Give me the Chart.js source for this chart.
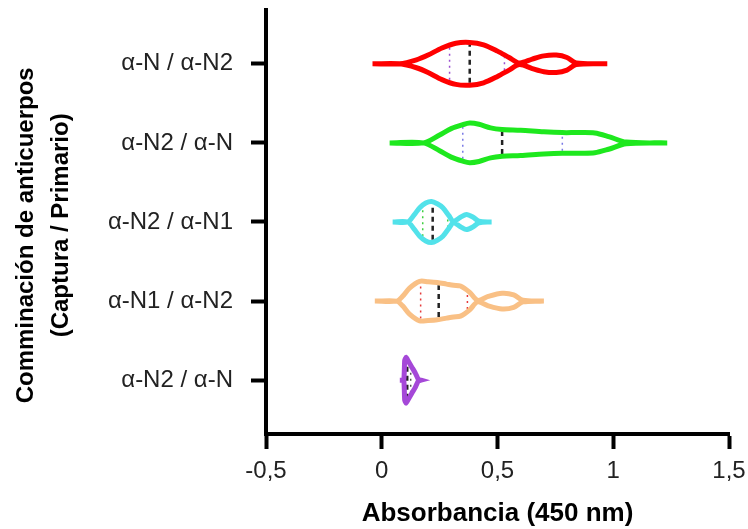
<!DOCTYPE html>
<html>
<head>
<meta charset="utf-8">
<script src="https://cdn.jsdelivr.net/npm/chart.js@4"></script>
<style>
  body { margin: 0; background: #fff; }
  canvas { display: block; }
</style>
</head>
<body>
<canvas id="violinChart" width="748" height="529"></canvas>
<script>
// categories, top to bottom
const categories = ['α-N / α-N2', 'α-N2 / α-N', 'α-N2 / α-N1', 'α-N1 / α-N2', 'α-N2 / α-N'];
const xTicks = [-0.5, 0, 0.5, 1, 1.5];

// violin profiles: absorbance values and density half-widths (in category units)
const redAbs = [-0.04, 0.078, 0.15, 0.20, 0.26, 0.32, 0.38, 0.44, 0.50, 0.55, 0.595, 0.65, 0.70, 0.754, 0.80, 0.84, 0.974];
const redWidth = [0, 0, 0.05, 0.11, 0.20, 0.26, 0.27, 0.24, 0.16, 0.08, 0.01, 0.06, 0.10, 0.11, 0.08, 0.01, 0];
const greenAbs = [0.034, 0.18, 0.25, 0.30, 0.35, 0.38, 0.42, 0.47, 0.52, 0.60, 0.70, 0.78, 0.85, 0.92, 0.98, 1.056, 1.233];
const greenWidth = [0, 0, 0.10, 0.18, 0.23, 0.25, 0.235, 0.19, 0.17, 0.16, 0.14, 0.13, 0.13, 0.125, 0.08, 0.01, 0];
const cyanAbs = [0.047, 0.112, 0.14, 0.164, 0.19, 0.215, 0.24, 0.264, 0.29, 0.31, 0.34, 0.366, 0.395, 0.42, 0.474];
const cyanWidth = [0, 0, 0.09, 0.18, 0.24, 0.26, 0.23, 0.18, 0.08, 0.01, 0.06, 0.095, 0.06, 0.01, 0];
const orangeAbs = [-0.03, 0.065, 0.09, 0.12, 0.164, 0.20, 0.24, 0.28, 0.31, 0.34, 0.38, 0.414, 0.46, 0.52, 0.57, 0.61, 0.70];
const orangeWidth = [0, 0, 0.06, 0.165, 0.25, 0.245, 0.235, 0.215, 0.2, 0.19, 0.11, 0.01, 0.06, 0.10, 0.08, 0.01, 0];
const purpleAbs = [0.078, 0.095, 0.099, 0.105, 0.115, 0.13, 0.145, 0.158, 0.17];
const purpleWidth = [0, 0, 0.25, 0.29, 0.24, 0.165, 0.09, 0.01, 0];

const medians = [0.38, 0.52, 0.22, 0.246, 0.11];
const lowerQuartiles = [0.293, 0.35, 0.177, 0.168, 0.10];
const upperQuartiles = [0.53, 0.78, 0.285, 0.37, 0.125];

const profiles = [
  [redAbs, redWidth],
  [greenAbs, greenWidth],
  [cyanAbs, cyanWidth],
  [orangeAbs, orangeWidth],
  [purpleAbs, purpleWidth],
];
const colors = ['#ff0000', '#1ee81e', '#52e2ea', '#f9c085', '#a548d8'];
const quartileColors = ['#9a4fd0', '#7a7ae6', '#3fcf3f', '#e53a3a', '#555555'];

function widthAt(abs, width, x) {
  for (let i = 0; i < abs.length - 1; i++) {
    if (x >= abs[i] && x <= abs[i + 1]) {
      const t = (x - abs[i]) / (abs[i + 1] - abs[i]);
      return width[i] + t * (width[i + 1] - width[i]);
    }
  }
  return 0;
}

const datasets = [];
profiles.forEach(([abs, width], i) => {
  const pos = categories.length - 1 - i;
  const upper = abs.map((x, k) => ({ x: x, y: pos + width[k] }));
  const lower = abs.map((x, k) => ({ x: x, y: pos - width[k] })).reverse();
  datasets.push({
    data: upper.concat(lower),
    borderColor: colors[i],
    borderWidth: 5,
    tension: i === 4 ? 0.15 : 0.3,
    order: 1,
  });
  [lowerQuartiles[i], upperQuartiles[i]].forEach(q => {
    const h = Math.max(widthAt(abs, width, q) - 0.03, 0);
    datasets.push({
      data: [{ x: q, y: pos - h }, { x: q, y: pos + h }],
      borderColor: quartileColors[i],
      borderWidth: 1.5,
      borderDash: [2, 4],
      order: 2,
    });
  });
  const hm = Math.max(widthAt(abs, width, medians[i]) - 0.03, 0);
  datasets.push({
    data: [{ x: medians[i], y: pos - hm }, { x: medians[i], y: pos + hm }],
    borderColor: '#222',
    borderWidth: 2.5,
    borderDash: [5, 4],
    order: 2,
  });
});

const fontFamily = 'Liberation Sans, Arial, sans-serif';

const ctx = document.getElementById('violinChart').getContext('2d');
new Chart(ctx, {
  type: 'scatter',
  data: { datasets: datasets },
  options: {
    responsive: false,
    devicePixelRatio: 1,
    animation: false,
    showLine: true,
    elements: { point: { radius: 0 } },
    layout: { padding: { top: 10, right: 19, left: 0, bottom: 0 } },
    plugins: { legend: { display: false }, tooltip: { enabled: false } },
    scales: {
      x: {
        type: 'linear',
        min: -0.5,
        max: 1.5,
        afterBuildTicks: scale => { scale.ticks = xTicks.map(v => ({ value: v })); },
        afterFit: scale => {
          scale.height = 95;
          scale.paddingLeft = 0;
          scale.paddingRight = 0;
        },
        ticks: {
          color: '#222',
          font: { family: fontFamily, size: 24 },
          padding: 8,
          callback: v => String(v).replace('.', ','),
        },
        grid: { drawOnChartArea: false, tickLength: 15, tickWidth: 4, tickColor: '#000' },
        border: { color: '#000', width: 4 },
        title: {
          display: true,
          text: 'Absorbancia (450 nm)',
          color: '#000',
          font: { family: fontFamily, size: 26, weight: 'bold' },
          padding: 0,
        },
      },
      y: {
        type: 'linear',
        min: -0.68,
        max: 4.68,
        afterBuildTicks: scale => { scale.ticks = categories.map((c, i) => ({ value: i })); },
        afterFit: scale => {
          scale.width = 266;
          scale.paddingTop = 0;
          scale.paddingBottom = 0;
        },
        ticks: {
          color: '#222',
          font: { family: fontFamily, size: 24 },
          padding: 18,
          callback: v => categories[categories.length - 1 - v],
        },
        grid: { drawOnChartArea: false, tickLength: 15, tickWidth: 4, tickColor: '#000' },
        border: { color: '#000', width: 4 },
        title: {
          display: true,
          text: ['Comminación de anticuerpos    ', '(Captura / Primario) '],
          color: '#000',
          font: { family: fontFamily, size: 24, weight: 'bold', lineHeight: 1.45 },
          padding: { top: 9 },
        },
      },
    },
  },
});
</script>
</body>
</html>
